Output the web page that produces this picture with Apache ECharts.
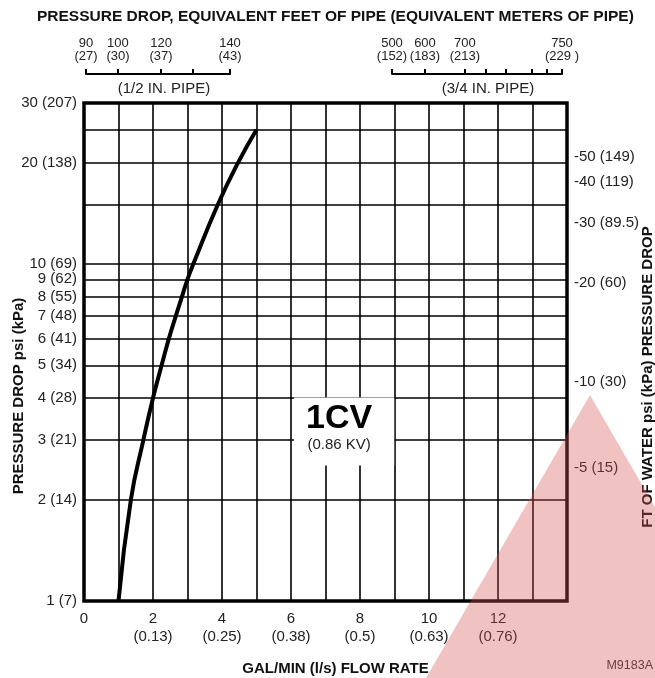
<!DOCTYPE html>
<html>
<head>
<meta charset="utf-8">
<script src="https://cdn.jsdelivr.net/npm/echarts@6/dist/echarts.min.js"></script>
<style>
  html, body { margin: 0; padding: 0; background: #fff; }
  #chart { width: 655px; height: 678px; }
</style>
</head>
<body>
<div id="chart"></div>
<script>
// flow curve for 1 Cv valve
const flowGpm = [1, 1.36, 1.72, 2, 2.25, 2.46, 2.66, 2.84, 3, 3.17, 3.88, 4.47, 5]
const dropPsi = [1, 2, 3, 4, 5, 6, 7, 8, 9, 10, 15, 20, 25]

// bottom axis
const xTickGpm = [0, 2, 4, 6, 8, 10, 12]
const xTickLps = ['', '(0.13)', '(0.25)', '(0.38)', '(0.5)', '(0.63)', '(0.76)']

// left axis
const yGridPsi = [1, 2, 3, 4, 5, 6, 7, 8, 9, 10, 15, 20, 25, 30]
const yTickPsi = [1, 2, 3, 4, 5, 6, 7, 8, 9, 10, 20, 30]
const yTickKpa = [7, 14, 21, 28, 34, 41, 48, 55, 62, 69, 138, 207]

// right axis (ft of water), placed where the picture puts them
const rightPsi = [20.7, 17.5, 13.2, 8.77, 4.46, 2.48]
const rightLabels = ['-50 (149)', '-40 (119)', '-30 (89.5)', '-20 (60)', '-10 (30)', '-5 (15)']

// equivalent pipe length scales (relative position along each bracket)
const halfPipeTicks = [0, 0.222, 0.521, 0.743, 1]
const halfPipeLabelAt = [0, 0.222, 0.521, 1]
const halfPipeLabels = ['90\n(27)', '100\n(30)', '120\n(37)', '140\n(43)']
const threeQPipeTicks = [0, 0.194, 0.429, 0.553, 0.671, 0.824, 0.912, 1]
const threeQPipeLabelAt = [0, 0.194, 0.429, 1]
const threeQPipeLabels = ['500\n(152)', '600\n(183)', '700\n(213)', '750\n(229 )']

// 1CV annotation
const cvLabelAt = [[7.54, 3.18]]

const FONT = 'Liberation Sans, Arial, Helvetica, sans-serif'

function pick (vals, labels, v) {
  let best = 0
  for (let i = 1; i < vals.length; i++) {
    if (Math.abs(vals[i] - v) < Math.abs(vals[best] - v)) best = i
  }
  return labels[best]
}

const gridLine = { show: true, lineStyle: { color: '#000', width: 1.6 } }
const labelStyle = { color: '#222', fontSize: 15, fontFamily: FONT }
const pipeNumStyle = { color: '#222', fontSize: 13, fontFamily: FONT }
const nameStyle = { color: '#111', fontSize: 15, fontWeight: 'bold', fontFamily: FONT }

function pipeAxis (gridIndex, ticks, labelAt, labels, name, shift) {
  return {
    gridIndex: gridIndex,
    type: 'value',
    position: 'top',
    min: 0,
    max: 1,
    axisLine: { show: true, lineStyle: { color: '#000', width: 2 } },
    axisTick: { show: true, customValues: ticks, length: 5, lineStyle: { color: '#000', width: 2 } },
    axisLabel: Object.assign({
      customValues: labelAt,
      margin: 10,
      lineHeight: 13,
      formatter: v => pick(labelAt, labels, v)
    }, pipeNumStyle),
    splitLine: { show: false },
    name: name,
    nameLocation: 'middle',
    nameGap: -23,
    nameMoveOverlap: false,
    nameTextStyle: Object.assign({}, labelStyle, { padding: [0, 0, 0, shift] })
  }
}

const chart = echarts.init(document.getElementById('chart'))
chart.setOption({
  animation: false,
  title: {
    text: 'PRESSURE DROP, EQUIVALENT FEET OF PIPE (EQUIVALENT METERS OF PIPE)',
    left: 32,
    top: 4,
    textStyle: { fontSize: 15.5, fontWeight: 'bold', color: '#111', fontFamily: FONT }
  },
  grid: [
    { left: 84, right: 88, top: 103, bottom: 77, outerBoundsMode: 'none', show: true, borderColor: '#000', borderWidth: 3.5, backgroundColor: '#fff' },
    { left: 86, width: 144, top: 73, height: 1, outerBoundsMode: 'none' },
    { left: 392, width: 170, top: 73, height: 1, outerBoundsMode: 'none' }
  ],
  xAxis: [
    {
      type: 'value',
      min: 0,
      max: 14,
      interval: 1,
      axisLine: { show: false },
      axisTick: { show: false },
      axisLabel: Object.assign({
        customValues: xTickGpm,
        margin: 9,
        lineHeight: 18,
        formatter: v => {
          const lps = pick(xTickGpm, xTickLps, v)
          return lps ? v + '\n' + lps : String(v)
        }
      }, labelStyle),
      splitLine: gridLine,
      name: 'GAL/MIN (l/s) FLOW RATE',
      nameLocation: 'middle',
      nameGap: 60,
      nameMoveOverlap: false,
      nameTextStyle: Object.assign({}, nameStyle, { padding: [0, 0, 0, 20] })
    },
    pipeAxis(1, halfPipeTicks, halfPipeLabelAt, halfPipeLabels, '(1/2 IN. PIPE)', 12),
    pipeAxis(2, threeQPipeTicks, threeQPipeLabelAt, threeQPipeLabels, '(3/4 IN. PIPE)', 22)
  ],
  yAxis: [
    {
      type: 'log',
      logBase: 10,
      min: 1,
      max: 30,
      axisLine: { show: false },
      axisTick: { show: false, customValues: yGridPsi },
      axisLabel: Object.assign({
        customValues: yTickPsi,
        margin: 7,
        formatter: v => pick(yTickPsi, yTickPsi, v) + ' (' + pick(yTickPsi, yTickKpa, v) + ')'
      }, labelStyle),
      splitLine: gridLine,
      name: 'PRESSURE DROP psi (kPa)',
      nameLocation: 'middle',
      nameRotate: 90,
      nameGap: 58,
      nameMoveOverlap: false,
      nameTextStyle: Object.assign({}, nameStyle, { padding: [0, 88, 0, 0] })
    },
    {
      type: 'log',
      logBase: 10,
      min: 1,
      max: 30,
      position: 'right',
      axisLine: { show: false },
      axisTick: { show: false },
      axisLabel: Object.assign({
        customValues: rightPsi,
        margin: 7,
        formatter: v => pick(rightPsi, rightLabels, v)
      }, labelStyle),
      splitLine: { show: false },
      name: 'FT OF WATER psi (kPa) PRESSURE DROP',
      nameLocation: 'middle',
      nameRotate: 90,
      nameGap: 73,
      nameMoveOverlap: false,
      nameTextStyle: Object.assign({}, nameStyle, { padding: [0, 50, 0, 0] })
    },
    { gridIndex: 1, type: 'value', show: false },
    { gridIndex: 2, type: 'value', show: false }
  ],
  series: [
    {
      name: '1CV',
      type: 'line',
      smooth: true,
      symbol: 'none',
      xAxisIndex: 0,
      yAxisIndex: 0,
      lineStyle: { color: '#000', width: 4 },
      data: flowGpm.map((q, i) => [q, dropPsi[i]])
    },
    {
      type: 'scatter',
      xAxisIndex: 0,
      yAxisIndex: 0,
      symbolSize: 0,
      silent: true,
      itemStyle: { opacity: 1 },
      label: {
        show: true,
        position: 'inside',
        opacity: 1,
        backgroundColor: '#fff',
        padding: [3, 22, 12, 12],
        formatter: '{a|1CV}\n{b|(0.86 KV)}',
        rich: {
          a: { fontSize: 34, fontWeight: 'bold', color: '#000', lineHeight: 36, fontFamily: FONT, align: 'center' },
          b: { fontSize: 15, color: '#222', lineHeight: 17, fontFamily: FONT, align: 'center' }
        }
      },
      data: cvLabelAt
    }
  ],
  graphic: [
    {
      type: 'text',
      right: 2,
      top: 659,
      style: { text: 'M9183A', fontSize: 12.5, fill: '#333', fontFamily: FONT }
    },
    {
      type: 'polygon',
      z: 100,
      silent: true,
      shape: { points: [[590, 395], [426, 678], [754, 678]] },
      style: { fill: 'rgba(214, 80, 80, 0.35)' }
    }
  ]
})
</script>
</body>
</html>
